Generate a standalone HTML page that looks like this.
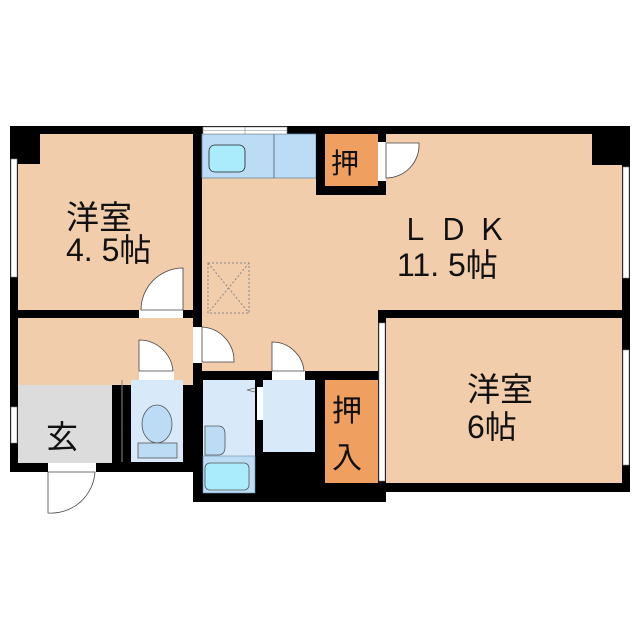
<!DOCTYPE html>
<html><head><meta charset="utf-8"><style>
html,body{margin:0;padding:0;background:#fff;}
svg{display:block}
text{font-family:"Liberation Sans","Noto Sans CJK JP",sans-serif;fill:#111;}
</style></head><body>
<svg width="640" height="640" viewBox="0 0 640 640" xmlns="http://www.w3.org/2000/svg">
<rect width="640" height="640" fill="#fff"/>
<rect x="10" y="126" width="620" height="366" fill="#000"/>
<rect x="10" y="460" width="185" height="12" fill="#000"/>
<rect x="193" y="480" width="193" height="22" fill="#000"/>
<rect x="10" y="472" width="183" height="40" fill="#fff"/>
<rect x="18" y="134" width="175" height="176" fill="#f2cdab"/>
<rect x="10" y="126" width="30" height="38" fill="#000"/>
<rect x="18" y="318" width="175" height="67" fill="#f2cdab"/>
<rect x="18" y="318" width="94" height="145" fill="#f2cdab"/>
<rect x="18" y="385" width="94" height="78" fill="#dcdcdc"/>
<rect x="202" y="134" width="420" height="176" fill="#f2cdab"/>
<rect x="202" y="310" width="176" height="61" fill="#f2cdab"/>
<rect x="592" y="126" width="38" height="39" fill="#000"/>
<rect x="386" y="318" width="236" height="165" fill="#f2cdab"/>
<rect x="202" y="134" width="114" height="44" fill="#bcdcf6" stroke="#6a8aa8" stroke-width="0.8"/>
<line x1="274" y1="134" x2="274" y2="178" stroke="#556" stroke-width="0.8"/>
<rect x="209" y="145" width="36" height="27" rx="6" fill="#aaecfb" stroke="#222" stroke-width="0.8"/>
<rect x="203" y="127" width="84" height="7" fill="#fff" stroke="#888" stroke-width="0.6"/>
<line x1="203" y1="130.5" x2="287" y2="130.5" stroke="#888" stroke-width="0.6"/>
<line x1="245" y1="127" x2="245" y2="134" stroke="#888" stroke-width="0.6"/>
<rect x="316" y="134" width="70" height="61" fill="#000"/>
<rect x="325" y="134" width="53" height="52" fill="#ef9f5f"/>
<rect x="378" y="142" width="8" height="39" fill="#fff"/>
<path d="M386 143 L419 143 A33 33 0 0 1 386 178 Z" fill="#fff" stroke="#444" stroke-width="0.8"/>
<rect x="208" y="263" width="41" height="50" fill="none" stroke="#888" stroke-width="1" stroke-dasharray="2,2"/>
<line x1="208" y1="263" x2="249" y2="313" stroke="#888" stroke-dasharray="2,2"/>
<line x1="249" y1="263" x2="208" y2="313" stroke="#888" stroke-dasharray="2,2"/>
<rect x="11" y="159" width="6" height="118" fill="#fff" stroke="#888" stroke-width="0.6"/>
<rect x="11" y="407" width="6" height="36" fill="#fff" stroke="#888" stroke-width="0.6"/>
<rect x="623" y="167" width="6" height="111" fill="#fff" stroke="#888" stroke-width="0.6"/>
<rect x="623" y="350" width="6" height="115" fill="#fff" stroke="#888" stroke-width="0.6"/>
<rect x="379" y="323" width="6" height="158" fill="#fff" stroke="#888" stroke-width="0.6"/>
<rect x="139" y="310" width="44" height="8" fill="#fff"/>
<path d="M183 310 L183 268 A42 42 0 0 0 141 310 Z" fill="#fff" stroke="#444" stroke-width="0.8"/>
<rect x="193" y="327" width="9" height="36" fill="#fff"/>
<path d="M202 327 A34 34 0 0 1 234 362 L202 362 Z" fill="#fff" stroke="#444" stroke-width="0.8"/>
<rect x="131" y="380" width="52" height="82" fill="#d8eaf9"/>
<line x1="122" y1="380" x2="122" y2="462" stroke="#888" stroke-width="1"/>
<rect x="139" y="371" width="35" height="9" fill="#fff"/>
<path d="M139 371 L139 340 A34 34 0 0 1 173 371 Z" fill="#fff" stroke="#444" stroke-width="0.8"/>
<ellipse cx="157" cy="424" rx="15" ry="19" fill="#bcdcf6" stroke="#555" stroke-width="0.8"/>
<rect x="138" y="443" width="39" height="15" fill="#bcdcf6" stroke="#555" stroke-width="0.8"/>
<rect x="48" y="463" width="48" height="9" fill="#fff"/>
<path d="M48 472 L48 513 A44 44 0 0 0 95 472 Z" fill="#fff" stroke="#444" stroke-width="0.8"/>
<rect x="203" y="380" width="52" height="76" fill="#d8eaf9"/>
<rect x="203" y="456" width="52" height="37" fill="#bcdcf6" stroke="#6a8aa8" stroke-width="0.6"/>
<rect x="205" y="463" width="44" height="27" rx="5" fill="#aaecfb" stroke="#555" stroke-width="0.8"/>
<path d="M205 426 L218 426 Q225 426 225 434 L225 447 Q225 455 218 455 L205 455 Z" fill="#bcdcf6" stroke="#555" stroke-width="0.8"/>
<rect x="257" y="387" width="6" height="33" fill="#fff"/>
<path d="M255 392 L247 390 L255 388" fill="none" stroke="#666" stroke-width="0.8"/>
<rect x="263" y="380" width="52" height="72" fill="#d8eaf9"/>
<rect x="272" y="371" width="33" height="9" fill="#fff"/>
<path d="M272 371 L272 342 A32 32 0 0 1 304 371 Z" fill="#fff" stroke="#444" stroke-width="0.8"/>
<rect x="325" y="380" width="53" height="103" fill="#ef9f5f"/>
<text x="66" y="229" font-size="33">洋室</text>
<text x="66" y="261" font-size="32">4. 5帖</text>
<text x="400" y="240" font-size="30">Ｌ Ｄ Ｋ</text>
<text x="397" y="276" font-size="32">11. 5帖</text>
<text x="467" y="401" font-size="33">洋室</text>
<text x="467" y="438" font-size="32">6帖</text>
<text x="46" y="448" font-size="32">玄</text>
<text x="331" y="173" font-size="28">押</text>
<text x="332" y="421" font-size="30">押</text>
<text x="332" y="468" font-size="30">入</text>
</svg>
</body></html>
